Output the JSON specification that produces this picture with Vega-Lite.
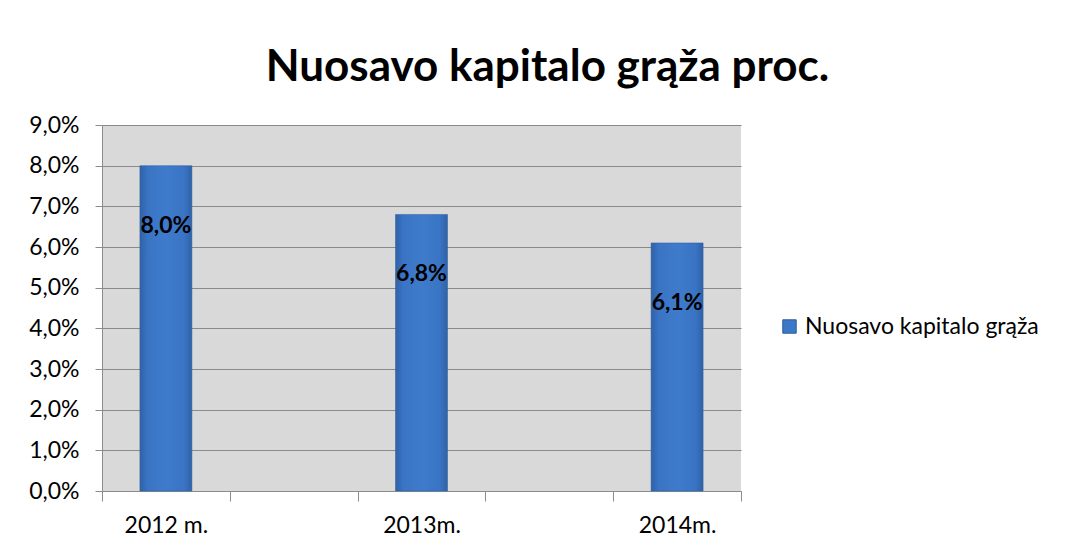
{
  "$schema": "https://vega.github.io/schema/vega-lite/v6.json",
  "autosize": "none",
  "width": 639,
  "height": 366,
  "padding": {"left": 102, "top": 125, "right": 328, "bottom": 60},
  "background": "white",
  "config": {
    "locale": {"number": {"decimal": ",", "thousands": ".", "grouping": [3], "currency": ["", " €"]}},
    "font": "Lato",
    "view": {"stroke": null, "fill": "#d9d9d9"}
  },
  "title": {
    "text": "Nuosavo kapitalo grąža proc.",
    "font": "Lato",
    "fontSize": 44,
    "fontWeight": "bold",
    "color": "#000000",
    "anchor": "middle",
    "dx": 126,
    "offset": 24
  },
  "data": {
    "values": [
      {"metai": "2012 m.", "reiksme": 0.080, "serija": "Nuosavo kapitalo grąža"},
      {"metai": "2013m.", "reiksme": 0.068, "serija": "Nuosavo kapitalo grąža"},
      {"metai": "2014m.", "reiksme": 0.061, "serija": "Nuosavo kapitalo grąža"}
    ]
  },
  "encoding": {
    "x": {
      "field": "metai",
      "type": "nominal",
      "sort": null,
      "scale": {"domain": ["2012 m.", " ", "2013m.", "  ", "2014m."], "paddingInner": 0, "paddingOuter": 0},
      "axis": {
        "title": null,
        "labelAngle": 0,
        "tickBand": "extent",
        "labelFontSize": 23,
        "labelColor": "#000000",
        "labelFont": "Lato",
        "labelOverlap": false,
        "domainColor": "#8c8c8c",
        "tickColor": "#8c8c8c",
        "tickSize": 10,
        "labelPadding": 13,
        "grid": false
      }
    },
    "y": {
      "field": "reiksme",
      "type": "quantitative",
      "scale": {"domain": [0, 0.09], "nice": false},
      "axis": {
        "title": null,
        "format": ".1%",
        "values": [0, 0.01, 0.02, 0.03, 0.04, 0.05, 0.06, 0.07, 0.08, 0.09],
        "labelOverlap": false,
        "labelFlush": false,
        "labelFontSize": 23,
        "labelColor": "#000000",
        "labelFont": "Lato",
        "domainColor": "#8c8c8c",
        "tickColor": "#8c8c8c",
        "tickSize": 7,
        "labelPadding": 16,
        "gridColor": "#8a8a8a",
        "gridWidth": 1.2,
        "gridOpacity": 1
      }
    }
  },
  "layer": [
    {
      "mark": {
        "type": "bar",
        "width": 52,
        "stroke": "#2d5c99",
        "strokeWidth": 0.5,
        "fill": {
          "gradient": "linear",
          "x1": 0, "y1": 0, "x2": 1, "y2": 0,
          "stops": [
            {"offset": 0, "color": "#2f62a8"},
            {"offset": 0.15, "color": "#3a74c4"},
            {"offset": 0.5, "color": "#3f7bcc"},
            {"offset": 0.85, "color": "#3a74c4"},
            {"offset": 1, "color": "#2f62a8"}
          ]
        }
      },
      "encoding": {
        "color": {
          "field": "serija",
          "type": "nominal",
          "scale": {"range": ["#3c77c8"]},
          "legend": {
            "title": null,
            "orient": "none",
            "legendX": 676,
            "legendY": 190,
            "symbolType": "square",
            "symbolSize": 180,
            "symbolStrokeColor": "#2d5c99",
            "symbolStrokeWidth": 1,
            "labelFontSize": 23,
            "labelLimit": 0,
            "labelColor": "#000000",
            "labelFont": "Lato",
            "labelOffset": 4
          }
        }
      }
    },
    {
      "mark": {"type": "text", "baseline": "middle", "align": "center", "dy": 60, "fontSize": 23, "fontWeight": "bold", "color": "#000000", "font": "Lato"},
      "encoding": {
        "text": {"field": "reiksme", "type": "quantitative", "format": ".1%"}
      }
    }
  ]
}
